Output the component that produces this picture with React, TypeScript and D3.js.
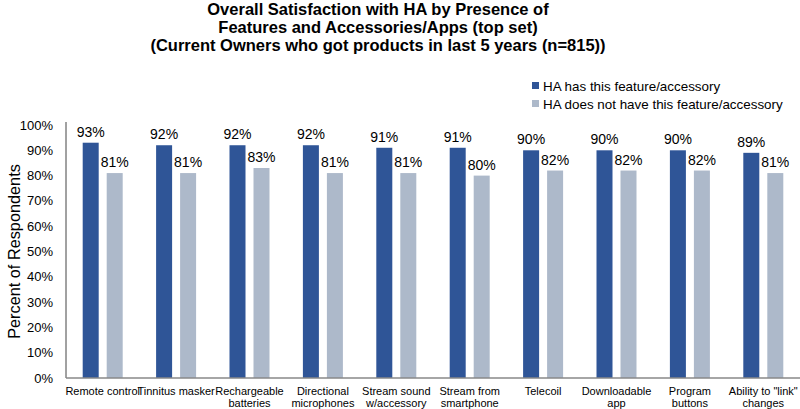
import React from "react";
import * as d3 from "d3";

const categories: string[][] = [
  ["Remote control"],
  ["Tinnitus masker"],
  ["Rechargeable", "batteries"],
  ["Directional", "microphones"],
  ["Stream sound", "w/accessory"],
  ["Stream from", "smartphone"],
  ["Telecoil"],
  ["Downloadable", "app"],
  ["Program", "buttons"],
  ["Ability to \"link\"", "changes"],
];
const hasFeature = [93, 92, 92, 92, 91, 91, 90, 90, 90, 89];
const noFeature = [81, 81, 83, 81, 81, 80, 82, 82, 82, 81];
const seriesNames = ["HA has this feature/accessory", "HA does not have this feature/accessory"];
const seriesColors = ["#2F5597", "#ADB9CA"];
const yTicks = [0, 10, 20, 30, 40, 50, 60, 70, 80, 90, 100];
const titleLines = [
  "Overall Satisfaction with HA by Presence of",
  "Features and Accessories/Apps (top set)",
  "(Current Owners who got products in last 5 years (n=815))",
];

const W = 800;
const H = 409;
const left = 66;
const right = 800;
const top = 125;
const bottom = 378;
const font = "'Liberation Sans', Arial, sans-serif";

export default function App() {
  const keys = categories.map((_, i) => String(i));
  const x = d3.scaleBand<string>().domain(keys).range([left, right]);
  const bw = x.bandwidth();
  const xs = d3
    .scaleBand<number>()
    .domain([0, 1])
    .range([bw / 2 - 20, bw / 2 + 20])
    .paddingInner(1 / 3);
  const y = d3.scaleLinear().domain([0, 100]).range([bottom, top]);
  const series = [hasFeature, noFeature];

  return (
    <svg width={W} height={H} style={{ position: "absolute", left: 0, top: 0, background: "#fff" }} fontFamily={font}>
      {titleLines.map((t, i) => (
        <text key={i} x={378} y={15 + i * 18} textAnchor="middle" fontWeight="bold" fontSize={16.5} fill="#000">
          {t}
        </text>
      ))}
      {seriesNames.map((n, i) => (
        <g key={n}>
          <rect x={532} y={82 + i * 18} width={7} height={7} fill={seriesColors[i]} />
          <text x={543} y={90.5 + i * 18} fontSize={13.4} fill="#000">
            {n}
          </text>
        </g>
      ))}
      <text
        transform={`translate(20,${(top + bottom) / 2}) rotate(-90)`}
        textAnchor="middle"
        fontSize={16.3}
        fill="#000"
      >
        Percent of Respondents
      </text>
      {yTicks.map((t) => (
        <text key={t} x={53} y={y(t) + 4.5} textAnchor="end" fontSize={13} fill="#000">
          {t}%
        </text>
      ))}
      {series.map((vals, s) =>
        vals.map((v, i) => {
          const bx = (x(String(i)) as number) + (xs(s) as number);
          return (
            <g key={`${s}-${i}`}>
              <rect x={bx} y={y(v)} width={xs.bandwidth()} height={bottom - y(v)} fill={seriesColors[s]} />
              <text x={bx + xs.bandwidth() / 2} y={y(v) - 6} textAnchor="middle" fontSize={14} fill="#000">
                {v}%
              </text>
            </g>
          );
        })
      )}
      <line x1={left} x2={left} y1={top - 3} y2={bottom} stroke="#444" strokeWidth={1} />
      <line x1={left} x2={right} y1={bottom} y2={bottom} stroke="#888" strokeWidth={1.5} />
      {categories.map((lines, i) => (
        <text key={i} textAnchor="middle" fontSize={11} fill="#000">
          {lines.map((l, j) => (
            <tspan key={j} x={(x(String(i)) as number) + bw / 2} y={395 + j * 12}>
              {l}
            </tspan>
          ))}
        </text>
      ))}
    </svg>
  );
}
